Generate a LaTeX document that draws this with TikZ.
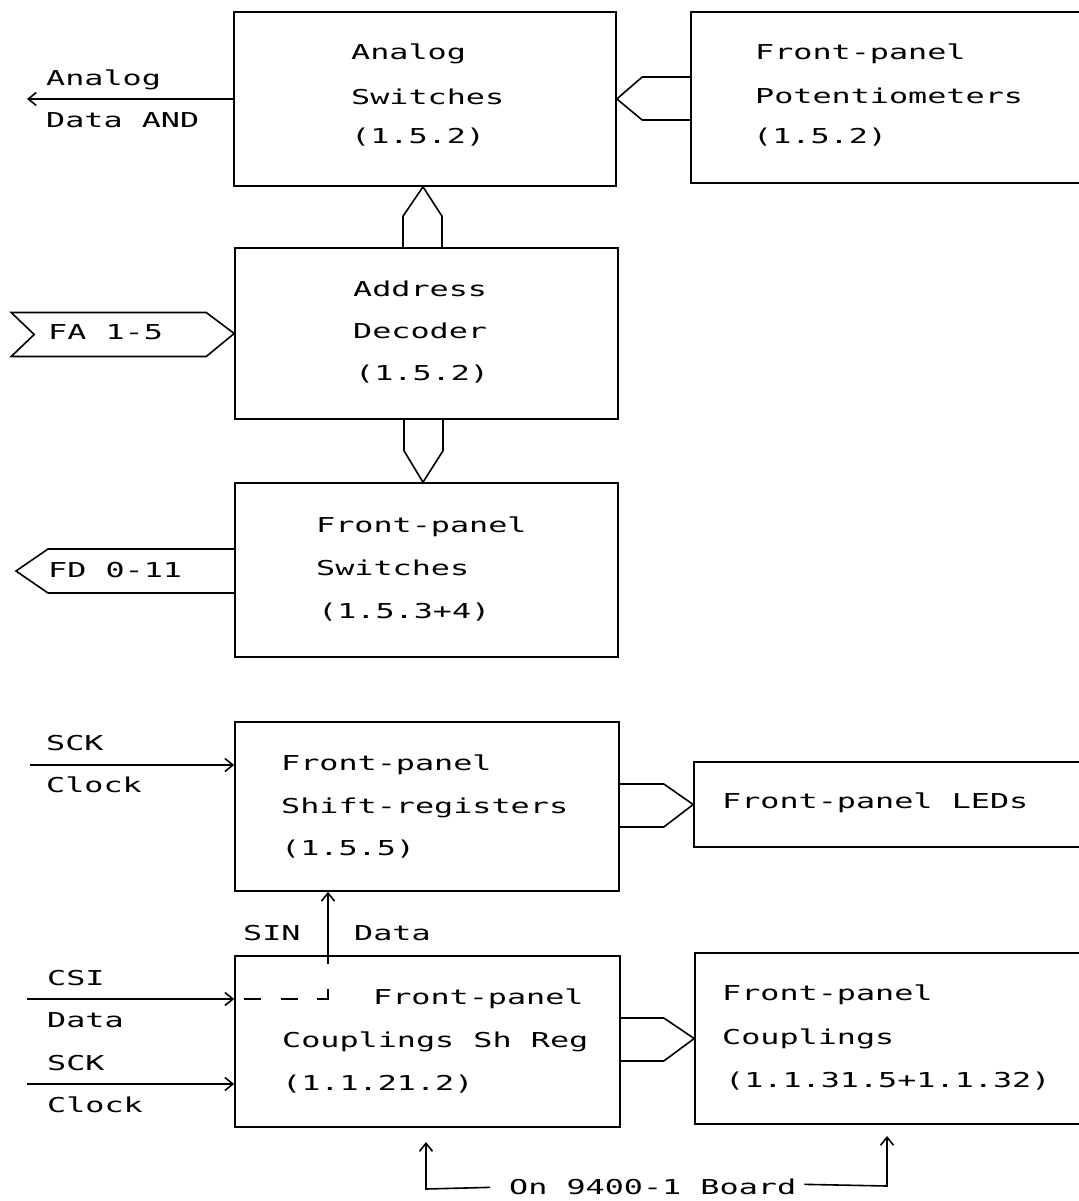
\documentclass[tikz,border=0pt]{standalone}
\usepackage{fontspec}
\newfontfamily\prn[FakeStretch=1.55]{DejaVu Sans Mono}
\usetikzlibrary{arrows.meta,calc}
\begin{document}
\begin{tikzpicture}[x=1pt,y=-1pt,
  ln/.style={line width=1.6pt, line join=miter},
  blk/.style={draw, line width=1.6pt, inner sep=0pt},
  arr/.style={ln, -{Straight Barb[length=8pt,width=13pt]}},
  txt/.style={font=\prn\fontsize{20.5pt}{24pt}\selectfont, inner sep=0pt, anchor=base west}]
\useasboundingbox (0,0) rectangle (1078,1201);
% blocks
\node[blk, minimum width=382pt, minimum height=174pt] (A) at (425,99) {};
\node[blk, minimum width=394pt, minimum height=171pt] (P) at (888,97.5) {};
\node[blk, minimum width=383pt, minimum height=171pt] (D) at (426.5,333.5) {};
\node[blk, minimum width=383pt, minimum height=174pt] (S) at (426.5,570) {};
\node[blk, minimum width=384pt, minimum height=169pt] (R) at (427,806.5) {};
\node[blk, minimum width=391pt, minimum height=85pt] (L) at (889.5,804.5) {};
\node[blk, minimum width=385pt, minimum height=171pt] (C) at (427.5,1041.5) {};
\node[blk, minimum width=390pt, minimum height=171pt] (K) at (890,1038.5) {};
% texts
\node[txt] (a1) at (351,60) {Analog};
\node[txt] (a2) at (351,105) {Switches};
\node[txt] (a3) at (351,144) {(1.5.2)};
\node[txt] (p1) at (755,60) {Front-panel};
\node[txt] (p2) at (755,104) {Potentiometers};
\node[txt] (p3) at (753,144) {(1.5.2)};
\node[txt] (o1) at (46,86) {Analog};
\node[txt] (o2) at (46,128) {Data AND};
\node[txt] (d1) at (353,296) {Address};
\node[txt] (d2) at (353,338) {Decoder};
\node[txt] (d3) at (355,380) {(1.5.2)};
\node[txt] (fa) at (48,339) {FA 1-5};
\node[txt] (fd) at (48,577) {FD 0-11};
\node[txt] (s1) at (316,532) {Front-panel};
\node[txt] (s2) at (316,575) {Switches};
\node[txt] (s3) at (318,618) {(1.5.3+4)};
\node[txt] (k1) at (46,750) {SCK};
\node[txt] (k2) at (46,792) {Clock};
\node[txt] (r1) at (281,770) {Front-panel};
\node[txt] (r2) at (281,813) {Shift-registers};
\node[txt] (r3) at (281,855) {(1.5.5)};
\node[txt] (l1) at (722,808) {Front-panel LEDs};
\node[txt] (sin) at (243,940) {SIN};
\node[txt] (sdat) at (354,940) {Data};
\node[txt] (c1) at (47,985) {CSI};
\node[txt] (c2) at (47,1027) {Data};
\node[txt] (c3) at (47,1070) {SCK};
\node[txt] (c4) at (47,1112) {Clock};
\node[txt] (cs1) at (373,1004) {Front-panel};
\node[txt] (cs2) at (282,1047) {Couplings Sh Reg};
\node[txt] (cs3) at (282,1090) {(1.1.21.2)};
\node[txt] (kk1) at (722,1000) {Front-panel};
\node[txt] (kk2) at (722,1044) {Couplings};
\node[txt] (kk3) at (725,1087) {(1.1.31.5+1.1.32)};
\node[txt] (lbl) at (509,1194) {On 9400-1 Board};
% buses
\draw[ln] ($(P.west)+(0,-20.5)$) -- ++(-48,0) -- (A.east) -- ($(P.west)+(-48,22.5)$) -- ($(P.west)+(0,22.5)$);
\draw[ln] ($(D.north)+(-23.5,0)$) -- ++(0,-31) -- ($(A.south)+(-2,0)$) -- ($(D.north)+(15.5,-31)$) -- ($(D.north)+(15.5,0)$);
\draw[ln] ($(D.south)+(-22.5,0)$) -- ++(0,31) -- ($(S.north)+(-3.5,0)$) -- ($(D.south)+(16.5,31)$) -- ($(D.south)+(16.5,0)$);
\draw[ln] ($(R.east)+(0,-22.5)$) -- ++(44,0) -- (L.west) -- ($(R.east)+(44,20.5)$) -- ($(R.east)+(0,20.5)$);
\draw[ln] ($(C.east)+(0,-23.5)$) -- ++(43,0) -- (K.west) -- ($(C.east)+(43,19.5)$) -- ($(C.east)+(0,19.5)$);
% bus flags
\draw[ln] (D.west) -- ++(-28,-21) -- ++(-195,0) -- ++(23,22) -- ++(-23,22) -- ++(195,0) -- cycle;
\draw[ln] ($(S.west)+(0,-21)$) -- (48,549) -- (16,571) -- (48,593) -- ($(S.west)+(0,23)$);
% single arrows
\coordinate (aout) at (27,99);
\draw[arr] (A.west) -- (aout);
\coordinate (sckA) at (30,765);
\draw[arr] (sckA) -- (sckA -| R.west);
\coordinate (csi) at (27,999);
\draw[arr] (csi) -- (csi -| C.west);
\coordinate (sckB) at (27,1084);
\draw[arr] (sckB) -- (sckB -| C.west);
\coordinate (corner) at (328,999);
\coordinate (vtop) at (328,964);
\draw[ln, dash pattern=on 0pt off 10pt on 17pt off 20pt on 17pt off 19pt on 21pt off 40pt] (csi -| C.west) -- (corner) -- (vtop);
\draw[arr] (vtop) -- (vtop |- R.south);
\coordinate (bl) at (426,1189);
\coordinate (br) at (887,1186);
\draw[arr] (lbl.west) ++(-19,1) -- (bl) -- ++(0,-47);
\draw[arr] (lbl.east) ++(8,-2) -- (br) -- ++(0,-50);
\end{tikzpicture}
\end{document}
